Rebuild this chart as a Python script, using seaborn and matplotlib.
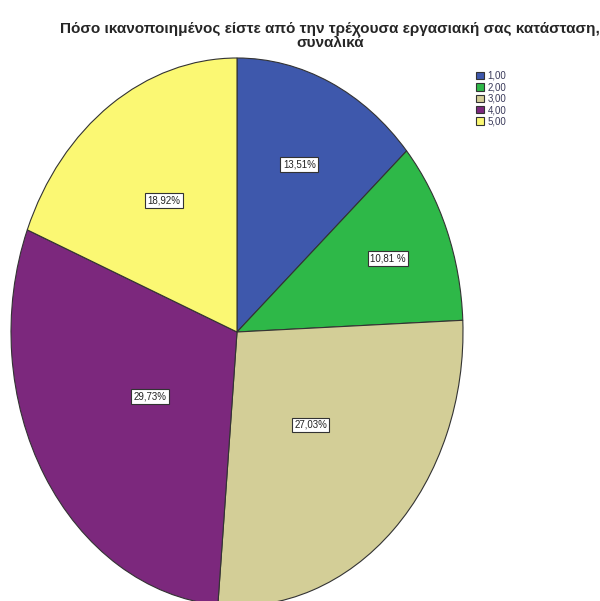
import matplotlib
matplotlib.use("Agg")
import matplotlib.pyplot as plt
import seaborn as sns
import numpy as np

# Τιμές από το διάγραμμα (ποσοστά)
categories = ["1,00", "2,00", "3,00", "4,00", "5,00"]
percentages = [13.51, 10.81, 27.03, 29.73, 18.92]
pct_labels = ["13,51%", "10,81 %", "27,03%", "29,73%", "18,92%"]
colors = ["#3E58AC", "#2EB848", "#D3CE97", "#7C287D", "#FBF873"]
label_dist = [0.67, 0.72, 0.47, 0.45, 0.58]

TITLE = "Πόσο ικανοποιημένος είστε από την τρέχουσα εργασιακή σας κατάσταση,\nσυναλικά"

sns.set_theme(style="white")
plt.rcParams['font.family'] = ['Liberation Sans', 'DejaVu Sans']

fig = plt.figure(figsize=(6.0, 6.01), dpi=100)
W, H = 600, 601
# άξονας ελλειπτικής πίτας (όπως στο SPSS)
ax = fig.add_axes([11 / W, (H - 606) / H, 452 / W, 548 / H])

wedges, _ = ax.pie(percentages, colors=colors, startangle=90, counterclock=False,
                   wedgeprops=dict(edgecolor="#333333", linewidth=0.8), radius=1)
ax.set_aspect("auto")
ax.set_xlim(-1, 1)
ax.set_ylim(-1, 1)
ax.axis("off")

for w, lab, d in zip(wedges, pct_labels, label_dist):
    ang = np.deg2rad((w.theta1 + w.theta2) / 2)
    ax.text(d * np.cos(ang), d * np.sin(ang), lab, ha="center", va="center",
            fontsize=7, color="#222222",
            bbox=dict(boxstyle="square,pad=0.25", fc="white", ec="#333333", lw=0.8))

fig.text(330 / W, 1 - 36 / H, TITLE, ha="center", va="center", fontsize=11,
         fontweight="bold", linespacing=1.05)

handles = [plt.Rectangle((0, 0), 1, 1, fc=c, ec="#333333", lw=0.8) for c in colors]
fig.legend(handles, categories, loc="upper left", bbox_to_anchor=(467 / W, 1 - 62 / H),
           frameon=False, fontsize=7, handlelength=0.8, handleheight=0.8,
           handletextpad=0.4, labelspacing=0.15, labelcolor="#3a3a5a")

fig.savefig("out.png", dpi=100)
